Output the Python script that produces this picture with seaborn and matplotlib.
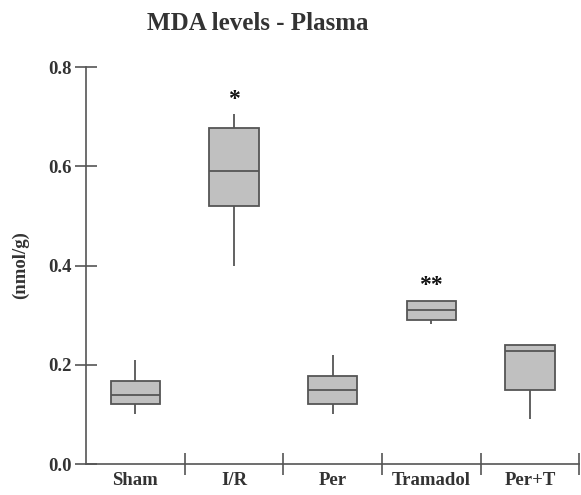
import matplotlib
matplotlib.use("Agg")
import matplotlib.pyplot as plt
import pandas as pd
import seaborn as sns
import numpy as np

# five-number summaries: min, q1, median, q3, max
groups = ["Sham", "I/R", "Per", "Tramadol", "Per+T"]
sham = [0.10, 0.12, 0.14, 0.167, 0.21]
ir = [0.40, 0.52, 0.59, 0.678, 0.705]
per = [0.10, 0.12, 0.15, 0.178, 0.22]
tramadol = [0.282, 0.29, 0.31, 0.328, 0.328]
per_t = [0.09, 0.15, 0.228, 0.24, 0.24]
marks = {"I/R": ("*", 0.735), "Tramadol": ("**", 0.36)}

df = pd.DataFrame({
    "group": np.repeat(groups, 5),
    "val": sham + ir + per + tramadol + per_t,
})

sns.set_style("white")
plt.rcParams["font.family"] = ["Liberation Serif", "DejaVu Serif"]
txt = "#333333"
edge = "#555555"

fig = plt.figure(figsize=(5.81, 4.95), dpi=100)
ax = fig.add_axes([0.148, 0.0626, 0.849, 0.802])

sns.boxplot(data=df, x="group", y="val", order=groups, whis=(0, 100),
            width=0.5, color="#c0c0c0", linecolor=edge, linewidth=1.3,
            saturation=1, showcaps=False, ax=ax)

for g, (s, yv) in marks.items():
    ax.text(groups.index(g), yv, s, ha="center", va="center",
            fontsize=17, fontweight="bold", color="#111111")

ax.set_ylim(0, 0.8)
ax.set_xlim(-0.5, 4.5)
ax.set_yticks([0.0, 0.2, 0.4, 0.6, 0.8])
ax.set_yticklabels(["0.0", "0.2", "0.4", "0.6", "0.8"])
ax.set_xticks([0.5, 1.5, 2.5, 3.5, 4.5])
ax.set_xticklabels([])
ax.set_xticks(range(5), minor=True)
ax.set_xticklabels(groups, minor=True)
ax.tick_params(axis="x", which="minor", bottom=True, length=0, pad=6)
ax.tick_params(axis="both", which="major", bottom=True, left=True,
               direction="inout", length=16, width=1.2, color=edge)
ax.tick_params(axis="y", pad=2)
for lab in ax.get_xticklabels(minor=True) + ax.get_yticklabels():
    lab.set_fontsize(13.5)
    lab.set_fontweight("bold")
    lab.set_color(txt)

sns.despine(ax=ax)
for sp in ["left", "bottom"]:
    ax.spines[sp].set_color(edge)
    ax.spines[sp].set_linewidth(1.2)

ax.set_xlabel("")
ax.set_ylabel("(nmol/g)", fontsize=13.5, fontweight="bold", color=txt, labelpad=14)
fig.text(0.444, 0.953, "MDA levels - Plasma", ha="center", va="center",
         fontsize=18, fontweight="bold", color=txt)

fig.savefig("out.png", dpi=100)
